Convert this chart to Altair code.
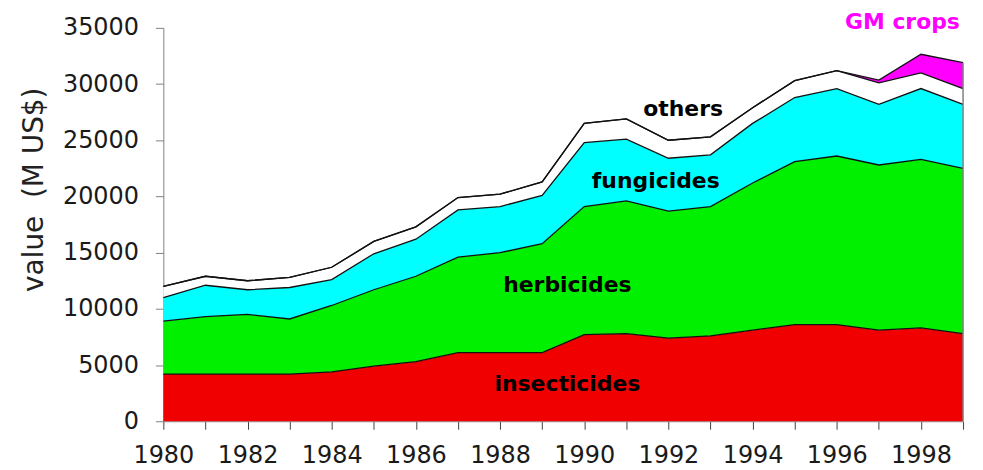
import altair as alt
import pandas as pd

years = list(range(1980, 2000))
insecticides = [4200, 4200, 4200, 4200, 4400, 4900, 5300, 6100, 6100, 6100,
                7700, 7800, 7400, 7600, 8100, 8600, 8600, 8100, 8300, 7800]
herbicides = [4700, 5100, 5300, 4900, 5900, 6800, 7600, 8500, 8900, 9700,
              11400, 11800, 11300, 11500, 13100, 14500, 15000, 14700, 15000, 14700]
fungicides = [2100, 2800, 2200, 2800, 2300, 3200, 3300, 4200, 4100, 4300,
              5700, 5500, 4700, 4600, 5300, 5700, 6000, 5400, 6300, 5700]
others = [1000, 800, 800, 900, 1100, 1100, 1100, 1100, 1100, 1200,
          1700, 1800, 1600, 1600, 1400, 1500, 1600, 1900, 1400, 1400]
gm_crops = [0, 0, 0, 0, 0, 0, 0, 0, 0, 0,
            0, 0, 0, 0, 0, 0, 0, 250, 1650, 2300]

series_names = ["insecticides", "herbicides", "fungicides", "others", "GM crops"]
series_colors = ["#F00000", "#00F000", "#00FFFF", "#FFFFFF", "#FF00FF"]

label_text = ["insecticides", "herbicides", "fungicides", "others", "GM crops"]
label_year = [1989.6, 1989.6, 1991.7, 1992.35, 1997.56]
label_value = [3340, 12120, 21330, 27800, 35500]
label_color = ["#000000", "#000000", "#000000", "#000000", "#FF00FF"]

rows = []
for name, vals, order in zip(series_names,
                             [insecticides, herbicides, fungicides, others, gm_crops],
                             range(5)):
    for y, v in zip(years, vals):
        rows.append({"year": y, "value": v, "series": name, "order": order})
df = pd.DataFrame(rows)

labels_df = pd.DataFrame({"text": label_text, "year": label_year,
                          "value": label_value, "color": label_color})

FONT = "DejaVu Sans"

x_scale = alt.Scale(domain=[1980, 1999], nice=False, zero=False)
y_scale = alt.Scale(domain=[0, 35000], nice=False)

base = alt.Chart(df)

areas = base.mark_area(interpolate="linear", opacity=1).encode(
    x=alt.X("year:Q", scale=x_scale,
            axis=alt.Axis(values=years, format="d", title=None,
                          labelExpr="datum.value % 2 == 0 ? datum.label : ''",
                          labelFont=FONT, labelFontSize=24, labelColor="#1a1a1a",
                          labelPadding=14,
                          domainColor="#808080", tickColor="#404040",
                          tickSize=8, grid=False, labelFlush=False)),
    y=alt.Y("value:Q", stack="zero", scale=y_scale,
            axis=alt.Axis(values=list(range(0, 35001, 5000)), format="d",
                          title="value\u00a0 (M US$)", titleFont=FONT,
                          titleFontSize=28, titleFontWeight="normal",
                          titleColor="#222222", titlePadding=14, titleY=162,
                          labelFont=FONT, labelFontSize=24, labelColor="#1a1a1a",
                          labelPadding=17,
                          domainColor="#808080", tickColor="#808080",
                          tickSize=8, grid=False)),
    color=alt.Color("series:N", scale=alt.Scale(domain=series_names, range=series_colors),
                    legend=None),
    order=alt.Order("order:Q"),
)

lines = base.transform_stack(
    stack="value", groupby=["year"], as_=["v0", "v1"],
    sort=[alt.SortField("order", order="ascending")]
).mark_line(color="#111111", strokeWidth=1.3, interpolate="linear").encode(
    x=alt.X("year:Q", scale=x_scale),
    y=alt.Y("v1:Q", scale=y_scale),
    detail="series:N",
)

right_edge = alt.Chart(pd.DataFrame({"year": [1999], "top": [sum(v[-1] for v in [insecticides, herbicides, fungicides, others, gm_crops])]})).mark_rule(
    color="#808080", strokeWidth=1.5).encode(
    x=alt.X("year:Q", scale=x_scale),
    y=alt.Y("top:Q", scale=y_scale),
    y2=alt.datum(0),
)

texts = alt.Chart(labels_df).mark_text(
    font=FONT, fontSize=22, fontWeight="bold", align="center", baseline="middle"
).encode(
    x=alt.X("year:Q", scale=x_scale),
    y=alt.Y("value:Q", scale=y_scale),
    text="text:N",
    color=alt.Color("color:N", scale=None),
)

chart = alt.layer(areas, lines, right_edge, texts).properties(
    width=803, height=395,
    autosize=alt.AutoSizeParams(type="none"),
    padding={"left": 156, "top": 19, "right": 12, "bottom": 48},
).configure(background="white").configure_view(strokeWidth=0, stroke="transparent")

chart.save("out.html", embed_options={"renderer": "svg", "actions": False})
